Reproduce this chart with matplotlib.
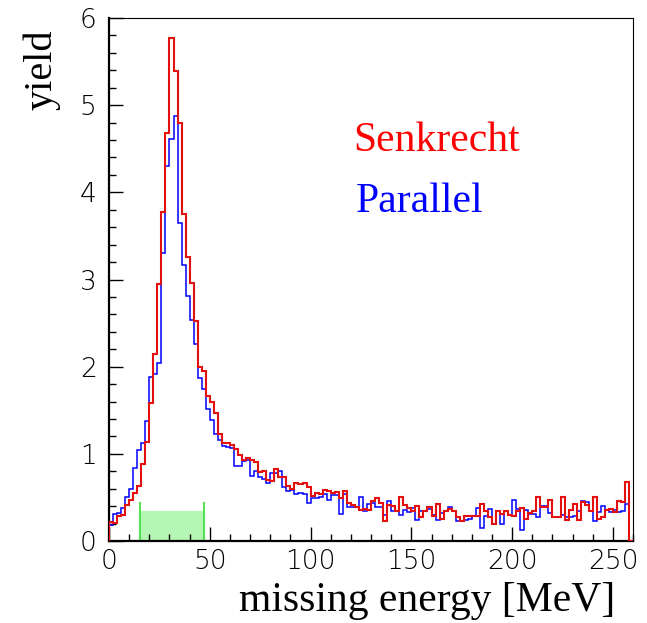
import numpy as np
import matplotlib
matplotlib.use("Agg")
from matplotlib import pyplot as plt
from matplotlib.ticker import MultipleLocator

# histogram: 130 bins of 2 MeV from 0 to 260
bin_edges = np.arange(0, 262, 2)

senkrecht = [
    0.22, 0.21, 0.29, 0.30, 0.41, 0.47, 0.55, 0.63, 0.88, 1.14,
    1.58, 2.15, 2.95, 3.77, 4.68, 5.77, 5.39, 4.79, 3.75, 3.26,
    2.96, 2.52, 2.00, 1.95, 1.66, 1.60, 1.47, 1.23, 1.13, 1.12,
    1.10, 1.05, 0.99, 0.93, 0.95, 0.93, 0.91, 0.79, 0.80, 0.70,
    0.69, 0.83, 0.74, 0.73, 0.63, 0.60, 0.67, 0.65, 0.67, 0.62,
    0.52, 0.55, 0.54, 0.58, 0.57, 0.55, 0.56, 0.49, 0.57, 0.44,
    0.41, 0.39, 0.36, 0.37, 0.36, 0.46, 0.49, 0.44, 0.23, 0.41,
    0.40, 0.35, 0.50, 0.41, 0.38, 0.34, 0.40, 0.28, 0.34, 0.39,
    0.29, 0.42, 0.25, 0.34, 0.37, 0.34, 0.27, 0.23, 0.29, 0.29,
    0.29, 0.29, 0.43, 0.34, 0.27, 0.19, 0.34, 0.31, 0.35, 0.30,
    0.29, 0.35, 0.38, 0.25, 0.32, 0.34, 0.50, 0.39, 0.39, 0.47,
    0.27, 0.27, 0.50, 0.24, 0.36, 0.43, 0.24, 0.45, 0.41, 0.34,
    0.50, 0.25, 0.27, 0.36, 0.37, 0.33, 0.46, 0.45, 0.68, 0.00,
]

parallel = [
    0.18, 0.31, 0.32, 0.38, 0.50, 0.60, 0.84, 1.04, 1.12, 1.38,
    1.88, 1.92, 2.04, 3.30, 4.30, 4.61, 4.88, 3.65, 3.17, 2.81,
    2.53, 2.26, 1.87, 1.74, 1.51, 1.39, 1.23, 1.16, 1.09, 1.08,
    1.07, 0.86, 0.86, 0.92, 0.93, 0.75, 0.80, 0.74, 0.71, 0.66,
    0.78, 0.78, 0.80, 0.62, 0.57, 0.58, 0.54, 0.55, 0.54, 0.44,
    0.49, 0.49, 0.50, 0.54, 0.47, 0.53, 0.53, 0.31, 0.54, 0.39,
    0.39, 0.39, 0.51, 0.35, 0.43, 0.44, 0.39, 0.39, 0.30, 0.46,
    0.35, 0.35, 0.30, 0.36, 0.33, 0.38, 0.24, 0.34, 0.35, 0.37,
    0.30, 0.24, 0.32, 0.34, 0.39, 0.34, 0.23, 0.23, 0.24, 0.25,
    0.29, 0.38, 0.15, 0.29, 0.37, 0.20, 0.35, 0.19, 0.34, 0.30,
    0.47, 0.37, 0.13, 0.36, 0.31, 0.31, 0.28, 0.40, 0.40, 0.32,
    0.27, 0.28, 0.30, 0.27, 0.28, 0.29, 0.35, 0.46, 0.45, 0.34,
    0.23, 0.33, 0.40, 0.36, 0.33, 0.36, 0.33, 0.34, 0.43, 0.00,
]

# shaded cut window
window_lo, window_hi = 15.5, 47.2
window_fill, window_line = 0.35, 0.45


def main():
    fig = plt.figure(figsize=(6.47, 6.23), dpi=100)
    ax = fig.add_axes([0.1685, 0.1316, 0.8100, 0.8395])

    # green window first so the histograms sit on top
    ax.fill_between([window_lo, window_hi], 0, window_fill, color="#b4f7b4", lw=0, zorder=1)
    ax.vlines([window_lo, window_hi], 0, window_line, color="#55e055", lw=1.5, zorder=2)

    ax.stairs(parallel, bin_edges, color="#0000ff", lw=1.1, baseline=0, zorder=3)
    ax.stairs(senkrecht, bin_edges, color="#e41010", lw=1.5, baseline=0, zorder=4)

    ax.set_xlim(0, 260)
    ax.set_ylim(0, 6)

    # ROOT-like frame: heavy left/bottom axes, thin top/right
    ax.spines["left"].set_linewidth(1.6)
    ax.spines["bottom"].set_linewidth(1.6)
    ax.spines["top"].set_linewidth(0.8)
    ax.spines["right"].set_linewidth(0.8)

    ax.xaxis.set_major_locator(MultipleLocator(50))
    ax.xaxis.set_minor_locator(MultipleLocator(10))
    ax.yaxis.set_major_locator(MultipleLocator(1))
    ax.yaxis.set_minor_locator(MultipleLocator(0.2))
    ax.tick_params(which="both", direction="in", top=False, right=False, width=1.0, colors="black")
    ax.tick_params(which="major", length=10)
    ax.tick_params(which="minor", length=5)
    ax.tick_params(axis="y", pad=9)
    ax.tick_params(axis="x", pad=6)
    for lab in ax.get_xticklabels() + ax.get_yticklabels():
        lab.set_family(["DejaVu Sans"])
        lab.set_fontweight(200)
        lab.set_fontsize(19)

    serif = ["Liberation Serif", "DejaVu Serif"]
    ax.text(0.466, 0.765, "Senkrecht", transform=ax.transAxes, color="#ff0000",
            fontsize=30, family=serif, ha="left", va="center")
    ax.text(0.470, 0.648, "Parallel", transform=ax.transAxes, color="#0000ff",
            fontsize=30, family=serif, ha="left", va="center")

    fig.text(0.064, 0.952, "yield", rotation=90, fontsize=29, family=serif, ha="center", va="top")
    fig.text(0.951, 0.019, "missing energy [MeV]", fontsize=30, family=serif, ha="right", va="baseline")

    fig.savefig("out.png", dpi=100)


if __name__ == "__main__":
    main()
